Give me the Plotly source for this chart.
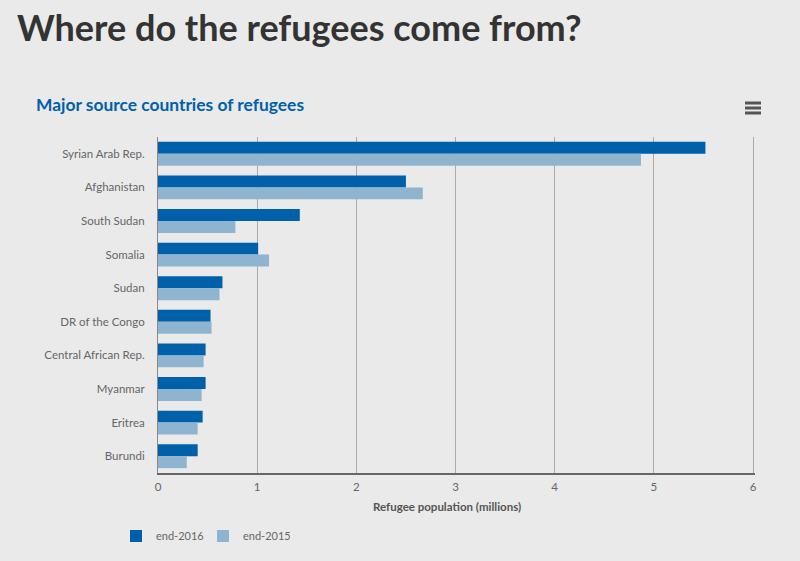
import plotly.graph_objects as go

countries = ["Syrian Arab Rep.", "Afghanistan", "South Sudan", "Somalia", "Sudan",
             "DR of the Congo", "Central African Rep.", "Myanmar", "Eritrea", "Burundi"]
end_2016 = [5.52, 2.50, 1.43, 1.01, 0.65, 0.53, 0.48, 0.48, 0.45, 0.40]
end_2015 = [4.87, 2.67, 0.78, 1.12, 0.62, 0.54, 0.46, 0.44, 0.40, 0.29]
x_ticks = [0, 1, 2, 3, 4, 5, 6]

bg = "#eaeaea"
font_name = "Lato"
plot_w = 597
plot_h = 336

fig = go.Figure()
fig.add_trace(go.Bar(y=countries, x=end_2016, name="end-2016", orientation="h",
                     marker=dict(color="#0060a9", line=dict(width=0))))
fig.add_trace(go.Bar(y=countries, x=end_2015, name="end-2015", orientation="h",
                     marker=dict(color="#8fb4d0", line=dict(width=0))))

fig.update_layout(
    width=800,
    height=561,
    paper_bgcolor=bg,
    plot_bgcolor=bg,
    margin=dict(l=158, r=45, t=137, b=88, autoexpand=False),
    barmode="group",
    bargap=0.29,
    bargroupgap=0,
    font=dict(family=font_name, color="#666666", size=11.5),
    title=dict(text="<b>Major source countries of refugees</b>", x=36 / 800, xanchor="left",
               y=1 - 105 / 561, yanchor="middle",
               font=dict(family=font_name, size=17.4, color="#0060a9")),
    legend=dict(orientation="h", x=(116 - 158) / plot_w, xanchor="left", y=(473 - 536) / plot_h, yanchor="middle",
                font=dict(size=11, color="#666666"), itemwidth=30, traceorder="normal",
                entrywidth=42, entrywidthmode="pixels"),
)
# range runs just past 6 so plotly keeps the last gridline
fig.update_xaxes(
    range=[0, 6.02],
    tickvals=x_ticks,
    showgrid=True,
    gridcolor="#ababab",
    gridwidth=1,
    zeroline=False,
    showline=True,
    linecolor="#666666",
    linewidth=2,
    ticks="",
    ticklabelstandoff=2,
)
fig.update_yaxes(
    autorange="reversed",
    showgrid=False,
    zeroline=False,
    showline=True,
    linecolor="#888888",
    linewidth=1,
    ticks="",
    ticklabelstandoff=10,
)

# page heading above the chart
fig.add_annotation(text="<b>Where do the refugees come from?</b>", xref="paper", yref="paper",
                   x=-143 / plot_w, y=1 + 110 / plot_h, xanchor="left", yanchor="middle", showarrow=False,
                   font=dict(family=font_name, size=36, color="#333333"))

# axis title sits left of the plot centre in the original
fig.add_annotation(text="<b>Refugee population (millions)</b>", xref="paper", yref="paper",
                   x=(446.5 - 158) / plot_w, y=(473 - 506) / plot_h, xanchor="center", yanchor="middle",
                   showarrow=False, font=dict(size=11.5, color="#555555"))

# hamburger menu icon
for y_px in [103, 108, 113]:
    fig.add_shape(type="line", xref="paper", yref="paper",
                  x0=(745 - 158) / plot_w, x1=(761 - 158) / plot_w,
                  y0=(473 - y_px) / plot_h, y1=(473 - y_px) / plot_h,
                  line=dict(color="#555555", width=3))

# drop the default page margin so the chart fills the window
fig.write_html("out.html", config={"displayModeBar": False},
               post_script="document.body.style.margin = '0';")
